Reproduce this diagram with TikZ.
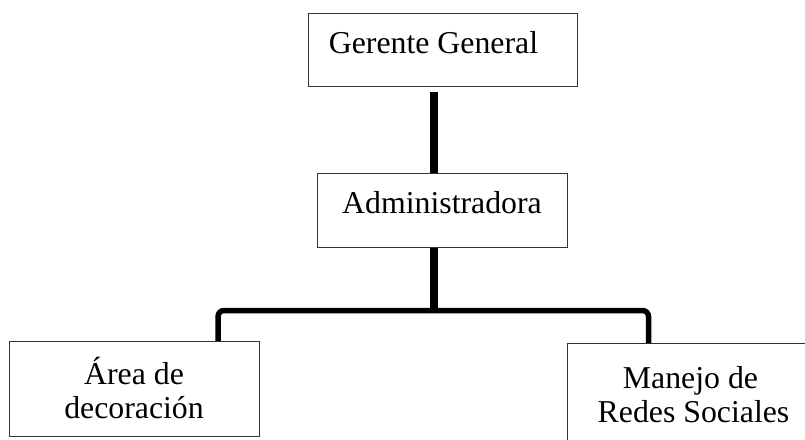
\documentclass[tikz,border=0pt]{standalone}
\usepackage{fontspec}
\setmainfont{Liberation Serif}
\begin{document}
\begin{tikzpicture}[x=1pt,y=-1pt,
  orgbox/.style={draw=black!80,line width=0.9pt,rectangle,inner sep=0pt,anchor=north west},
  lbl/.style={inner sep=0pt,anchor=base,font=\fontsize{31.8}{34}\selectfont},
  mainline/.style={line width=8pt},
  subline/.style={line width=5.5pt,rounded corners=6pt}]
\useasboundingbox (0,0) rectangle (805,439);
\clip (0,0) rectangle (805,439);
\fill[white] (0,0) rectangle (805,439);
% boxes
\node[orgbox,minimum width=269pt,minimum height=73pt] (gg) at (308,13) {};
\node[orgbox,minimum width=250pt,minimum height=74pt] (adm) at (317,173) {};
\node[orgbox,minimum width=250pt,minimum height=95pt] (area) at (9,341) {};
\node[orgbox,minimum width=252pt,minimum height=98pt] (redes) at (567,343) {};
% labels
\node[lbl] (tgg) at (433.5,53) {Gerente General};
\node[lbl] (tadm) at (442,213) {Administradora};
\node[lbl] (tarea1) at (134,384) {Área de};
\node[lbl] (tarea2) at (134,418) {decoración};
\node[lbl] (tredes1) at (690.5,388) {Manejo de};
\node[lbl] (tredes2) at (693.5,422) {Redes Sociales};
% connectors
\coordinate (vx) at (434,0);
\coordinate (jl) at (218,310.5);
\coordinate (jr) at (648.5,310.5);
\draw[mainline] ([yshift=-5pt]gg.south -| vx) -- (adm.north -| vx);
\draw[mainline] (adm.south -| vx) -- (vx |- 0,313);
\draw[subline] (jl |- area.north) -- (jl) -- (jr) -- (jr |- redes.north);
\end{tikzpicture}
\end{document}
